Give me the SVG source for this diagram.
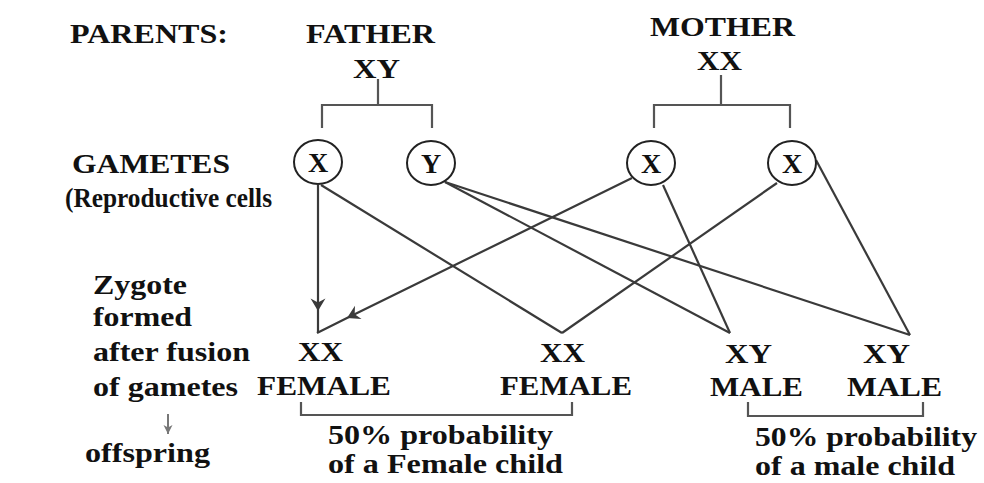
<svg xmlns="http://www.w3.org/2000/svg" width="984" height="483" viewBox="0 0 984 483">
<style>
text{font-family:"Liberation Serif","Times New Roman","DejaVu Serif",serif;font-weight:bold;fill:#111;font-size:28px}
.c{font-size:28px}
.ln{stroke:#3a3a3a;stroke-width:2.2;fill:none}
.br{stroke:#555;stroke-width:2.2;fill:none}
.cir{fill:#fff;stroke:#222;stroke-width:2}
</style>
<defs>
<marker id="barb" markerUnits="userSpaceOnUse" markerWidth="16" markerHeight="16" refX="12" refY="7" viewBox="0 0 14 14" orient="auto">
<path d="M12,7 L1,0.5 L4.5,7 L1,13.5 Z" fill="#3a3a3a"/>
</marker>
<marker id="small" markerUnits="userSpaceOnUse" markerWidth="12" markerHeight="12" refX="10" refY="6" viewBox="0 0 12 12" orient="auto">
<path d="M10,6 L1,1.5 L3.5,6 L1,10.5 Z" fill="#777"/>
</marker>
</defs>

<g id="labels">
<text x="70" y="43" textLength="158" lengthAdjust="spacingAndGlyphs">PARENTS:</text>
<text x="72" y="173" textLength="158" lengthAdjust="spacingAndGlyphs">GAMETES</text>
<text x="65" y="207" textLength="207" lengthAdjust="spacingAndGlyphs">(Reproductive cells</text>
<text x="93" y="294" textLength="94" lengthAdjust="spacingAndGlyphs">Zygote</text>
<text x="93" y="326" textLength="99" lengthAdjust="spacingAndGlyphs">formed</text>
<text x="93" y="361" textLength="157" lengthAdjust="spacingAndGlyphs">after fusion</text>
<text x="93" y="396" textLength="145" lengthAdjust="spacingAndGlyphs">of gametes</text>
<line x1="168" y1="414" x2="168" y2="434" stroke="#777" stroke-width="2" marker-end="url(#small)"/>
<text x="85" y="462" textLength="125" lengthAdjust="spacingAndGlyphs">offspring</text>
</g>

<g id="father">
<text x="306" y="43" textLength="129" lengthAdjust="spacingAndGlyphs">FATHER</text>
<text x="353" y="78" textLength="47" lengthAdjust="spacingAndGlyphs">XY</text>
</g>
<g id="mother">
<text x="650" y="36" textLength="145" lengthAdjust="spacingAndGlyphs">MOTHER</text>
<text x="697" y="70" textLength="45" lengthAdjust="spacingAndGlyphs">XX</text>
</g>

<g id="brackets">
<path class="br" d="M378,79 V105 M322,128 V105 H432 V128"/>
<path class="br" d="M721,75 V105 M654,128 V105 H790 V128"/>
<path class="br" d="M301,402 V415 H572 V402"/>
<path class="br" d="M748,402 V416 H923 V402"/>
</g>

<g id="connectors">
<path class="ln" d="M318,185 L318,311 L318,333" marker-mid="url(#barb)"/>
<path class="ln" d="M632,178 L347,318 L317,333" marker-mid="url(#barb)"/>
<path class="ln" d="M321,185 L562,333"/>
<path class="ln" d="M777,183 L562,333"/>
<path class="ln" d="M445,182 L730,333"/>
<path class="ln" d="M663,185 L730,333"/>
<path class="ln" d="M445,182 L910,335"/>
<path class="ln" d="M816,160 L910,335"/>
</g>

<g id="gamete-father-x">
<ellipse class="cir" cx="318" cy="162" rx="24" ry="22"/>
<text class="c" x="318" y="172" text-anchor="middle">X</text>
</g>
<g id="gamete-father-y">
<ellipse class="cir" cx="431" cy="163" rx="24" ry="22"/>
<text class="c" x="431" y="173" text-anchor="middle">Y</text>
</g>
<g id="gamete-mother-x1">
<ellipse class="cir" cx="651" cy="163" rx="24" ry="22"/>
<text class="c" x="651" y="173" text-anchor="middle">X</text>
</g>
<g id="gamete-mother-x2">
<ellipse class="cir" cx="792" cy="163" rx="24" ry="22"/>
<text class="c" x="792" y="173" text-anchor="middle">X</text>
</g>

<g id="offspring-1">
<text x="298" y="361" textLength="45" lengthAdjust="spacingAndGlyphs">XX</text>
<text x="257" y="395" textLength="134" lengthAdjust="spacingAndGlyphs">FEMALE</text>
</g>
<g id="offspring-2">
<text x="540" y="362" textLength="45" lengthAdjust="spacingAndGlyphs">XX</text>
<text x="500" y="395" textLength="132" lengthAdjust="spacingAndGlyphs">FEMALE</text>
</g>
<g id="offspring-3">
<text x="725" y="363" textLength="47" lengthAdjust="spacingAndGlyphs">XY</text>
<text x="710" y="396" textLength="93" lengthAdjust="spacingAndGlyphs">MALE</text>
</g>
<g id="offspring-4">
<text x="863" y="363" textLength="47" lengthAdjust="spacingAndGlyphs">XY</text>
<text x="847" y="396" textLength="95" lengthAdjust="spacingAndGlyphs">MALE</text>
</g>

<g id="prob-female">
<text x="328" y="444" textLength="225" lengthAdjust="spacingAndGlyphs">50% probability</text>
<text x="328" y="473" textLength="235" lengthAdjust="spacingAndGlyphs">of a Female child</text>
</g>
<g id="prob-male">
<text x="755" y="446" textLength="222" lengthAdjust="spacingAndGlyphs">50% probability</text>
<text x="755" y="475" textLength="200" lengthAdjust="spacingAndGlyphs">of a male child</text>
</g>
</svg>
